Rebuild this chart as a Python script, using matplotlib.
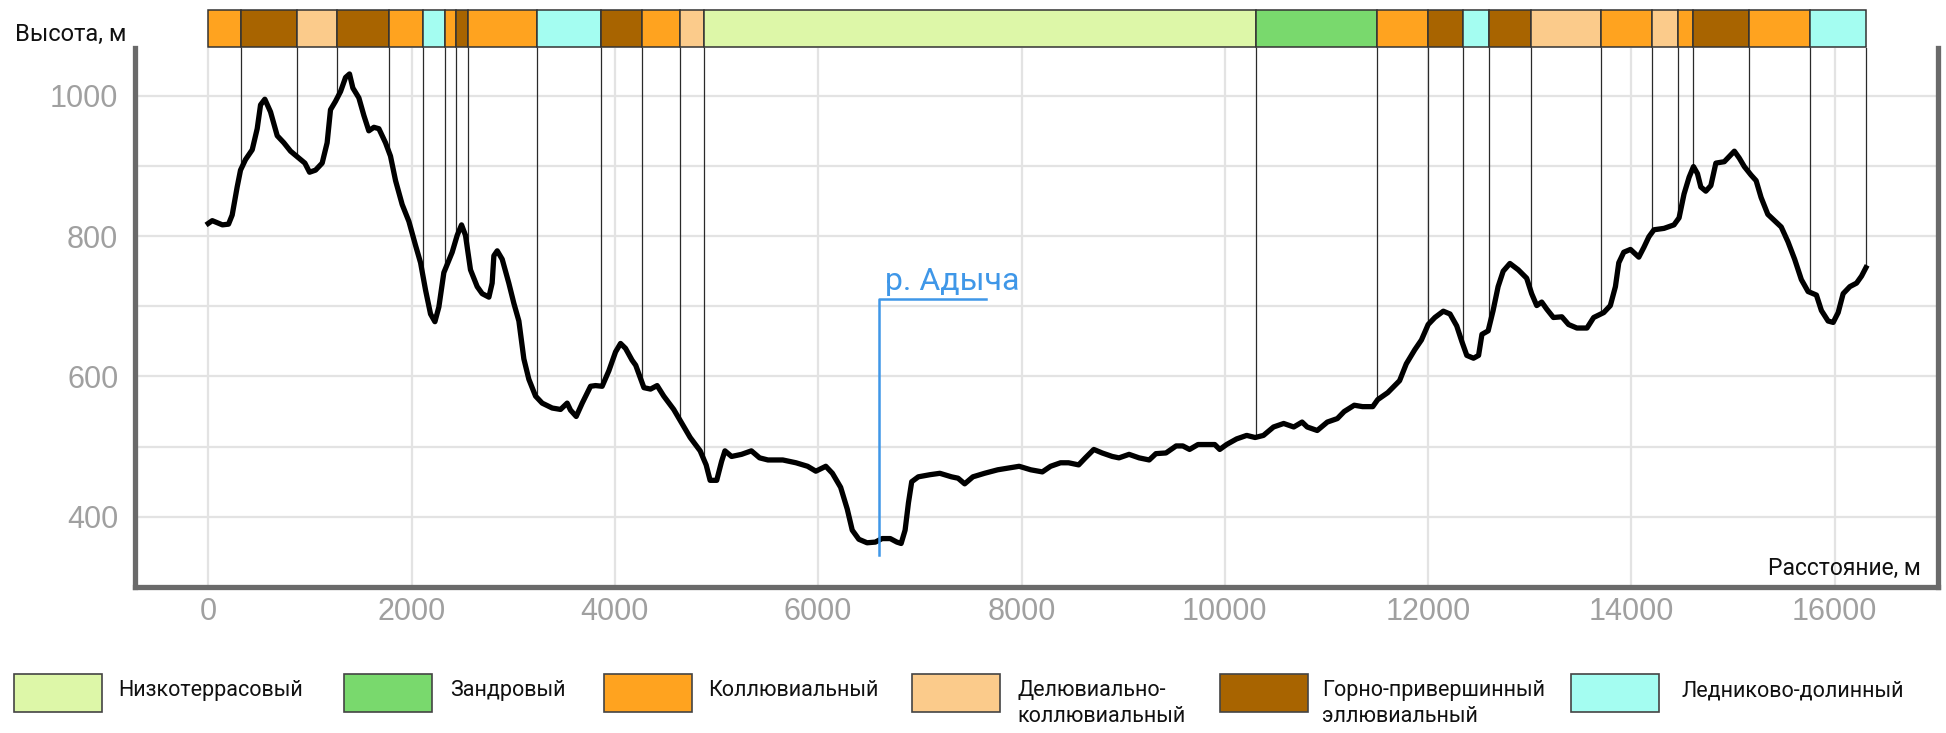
import numpy as np
import matplotlib
matplotlib.use("Agg")
from matplotlib import pyplot as plt
from matplotlib.patches import Rectangle

plt.rcParams['font.family'] = ['Roboto', 'DejaVu Sans']

# --- data ---
distance = [0, 40, 140, 200, 236, 285, 318, 367, 433, 482, 515, 557, 613, 679, 744, 810, 892, 951, 997,
            1056, 1121, 1170, 1203, 1252, 1302, 1351, 1390, 1423, 1482, 1531, 1580, 1630, 1679, 1744, 1793,
            1843, 1908, 1974, 2039, 2089, 2138, 2187, 2230, 2269, 2318, 2400, 2449, 2492, 2531, 2580, 2646,
            2695, 2761, 2793, 2810, 2843, 2892, 2957, 3007, 3056, 3105, 3154, 3220, 3285, 3384, 3466, 3531,
            3564, 3620, 3679, 3761, 3810, 3875, 3941, 4007, 4056, 4105, 4170, 4205, 4286, 4351, 4416, 4481,
            4579, 4660, 4741, 4839, 4898, 4937, 5002, 5050, 5083, 5148, 5246, 5343, 5424, 5506, 5652, 5782,
            5896, 5977, 6075, 6140, 6221, 6286, 6335, 6400, 6481, 6563, 6628, 6709, 6774, 6816, 6855, 6888,
            6920, 6985, 7099, 7197, 7311, 7376, 7441, 7522, 7636, 7766, 7896, 7977, 8091, 8205, 8286, 8384,
            8463, 8562, 8628, 8711, 8793, 8893, 8959, 9058, 9157, 9256, 9322, 9421, 9521, 9587, 9653, 9736,
            9851, 9901, 9950, 10017, 10116, 10215, 10298, 10380, 10479, 10579, 10678, 10760, 10810, 10909,
            11008, 11107, 11174, 11273, 11355, 11455, 11504, 11603, 11719, 11785, 11868, 11934, 12000, 12066,
            12149, 12215, 12281, 12331, 12380, 12446, 12496, 12529, 12590, 12639, 12688, 12738, 12804, 12886,
            12969, 13018, 13068, 13117, 13166, 13232, 13315, 13381, 13463, 13562, 13628, 13727, 13792, 13842,
            13875, 13924, 13990, 14072, 14122, 14171, 14221, 14320, 14418, 14468, 14517, 14567, 14610, 14649,
            14682, 14731, 14781, 14830, 14913, 14979, 15012, 15061, 15110, 15176, 15226, 15275, 15341, 15407,
            15473, 15539, 15605, 15671, 15737, 15819, 15868, 15934, 15984, 16033, 16082, 16148, 16214, 16263,
            16306]
elevation = [818, 822, 816, 817, 830, 870, 894, 909, 923, 953, 987, 995, 977, 943, 933, 921, 911, 904, 891,
             894, 904, 933, 980, 992, 1006, 1026, 1031, 1011, 997, 972, 950, 955, 953, 933, 914,
             879, 845, 821, 787, 762, 723, 689, 678, 699, 748, 777, 801, 816, 801, 752, 728,
             718, 713, 733, 772, 779, 767, 733, 704, 679, 625, 596, 572, 562, 555, 553, 562,
             552, 543, 562, 586, 587, 586, 608, 635, 647, 640, 623, 616, 584, 582, 587, 572,
             553, 533, 513, 494, 474, 452, 452, 479, 494, 486, 489, 494, 484, 481, 481, 477,
             472, 465, 472, 462, 442, 411, 381, 368, 363, 364, 369, 369, 364, 362, 381, 420,
             450, 457, 460, 462, 457, 455, 447, 457, 462, 467, 470, 472, 467, 464, 472, 477,
             477, 474, 484, 496, 491, 486, 484, 489, 484, 481, 490, 491, 501, 501, 496, 503,
             503, 503, 496, 503, 511, 516, 513, 516, 528, 533, 528, 535, 528, 523,
             535, 540, 550, 559, 557, 557, 567, 577, 594, 618, 638, 652, 674, 684,
             693, 689, 672, 650, 630, 626, 630, 660, 665, 694, 728, 750, 761, 752,
             740, 718, 701, 706, 696, 684, 685, 674, 669, 669, 684, 691, 701, 728,
             762, 777, 781, 770, 784, 799, 809, 811, 816, 826, 860, 884, 899, 889,
             870, 864, 872, 904, 906, 916, 921, 911, 899, 887, 879, 855, 831, 822,
             813, 792, 767, 738, 721, 716, 694, 679, 677, 691, 718, 728, 733, 743,
             755]

# segment borders along the profile and the landform type of each segment
borders = [0, 325, 870, 1265, 1775, 2108, 2330, 2433, 2560, 3238, 3860, 4268, 4645, 4872,
           10305, 11495, 12003, 12338, 12600, 13010, 13705, 14200, 14460, 14610, 15155, 15755, 16306]
segment_type = ['К', 'Г', 'Д', 'Г', 'К', 'Л', 'К', 'Г', 'К', 'Л', 'Г', 'К', 'Д', 'Н',
                'З', 'К', 'Г', 'Л', 'Г', 'Д', 'К', 'Д', 'К', 'Г', 'К', 'Л']

legend_keys = ['Н', 'З', 'К', 'Д', 'Г', 'Л']
legend_names = ['Низкотеррасовый', 'Зандровый', 'Коллювиальный',
                'Делювиально-\nколлювиальный', 'Горно-привершинный\nэллювиальный', 'Ледниково-долинный']
legend_colors = ['#ddf7a8', '#79d96d', '#ffa31f', '#fbcb8b', '#a86400', '#a4fdf1']

river_x = 6595
river_label = 'р. Адыча'

W, H = 1946, 733


def fx(px):
    return px / W


def fy(py):
    return 1 - py / H


fig = plt.figure(figsize=(W / 100, H / 100), dpi=100)

ax = fig.add_axes([fx(135), fy(587), fx(1938) - fx(135), fy(48) - fy(587)])
bar_ax = fig.add_axes([fx(135), fy(47), fx(1938) - fx(135), fy(10) - fy(47)])

xlim = (-720, 17015)
ax.set_xlim(xlim)
ax.set_ylim(300, 1068)

# grid
ax.set_xticks(range(0, 16001, 2000))
ax.set_yticks([400, 600, 800, 1000])
ax.set_yticks(range(400, 1001, 100), minor=True)
ax.grid(axis='y', which='both', color='#e3e3e3', lw=1.6, zorder=0)
ax.grid(axis='x', which='major', color='#e3e3e3', lw=1.6, zorder=0)
ax.tick_params(which='both', length=0)
ax.tick_params(axis='y', pad=12, labelsize=22, labelcolor='#a0a0a0')
ax.tick_params(axis='x', pad=7, labelsize=22, labelcolor='#a0a0a0')
for lab in ax.get_xticklabels() + ax.get_yticklabels():
    lab.set_fontfamily(['Liberation Sans', 'DejaVu Sans'])

for side in ['left', 'bottom', 'right']:
    ax.spines[side].set_color('#6a6a6a')
    ax.spines[side].set_linewidth(3.8)
ax.spines['top'].set_visible(False)

# thin lines from the type bar down to the profile
for b in borders[1:]:
    z = np.interp(b, distance, elevation)
    ax.plot([b, b], [z, 1068], color='#2a2a2a', lw=0.9, zorder=2)

ax.plot(distance, elevation, color='black', lw=3.8, solid_joinstyle='round', zorder=3)

# river marker
ax.plot([river_x, river_x, river_x + 1055], [345, 710, 710], color='#3f97e8', lw=1.8, zorder=4)
ax.text(river_x + 60, 714, river_label, color='#3f97e8', fontsize=23, ha='left', va='bottom', zorder=4)

ax.text(0.9905, 0.035, 'Расстояние, м', transform=ax.transAxes, ha='right', va='center',
        fontsize=16.5, color='#111111')
fig.text(fx(15), fy(34), 'Высота, м', ha='left', va='center', fontsize=17, color='#111111')

# type bar
type_color = dict(zip(legend_keys, legend_colors))
bar_ax.set_xlim(xlim)
bar_ax.set_ylim(0, 1)
bar_ax.axis('off')
for i, t in enumerate(segment_type):
    bar_ax.bar(x=borders[i], height=1, width=borders[i + 1] - borders[i], bottom=0, align='edge',
               color=type_color[t], edgecolor='#333333', linewidth=1.1, clip_on=False)

# legend
box_left = [14, 344, 604, 912, 1220, 1571]
text_left = [118, 450, 708, 1017, 1322, 1681]
for i in range(len(legend_names)):
    fig.add_artist(Rectangle((fx(box_left[i]), fy(712)), fx(88), fy(674) - fy(712),
                             transform=fig.transFigure, facecolor=legend_colors[i],
                             edgecolor='#444444', lw=1.2))
    fig.text(fx(text_left[i]), fy(680), legend_names[i], ha='left', va='top', fontsize=15.5,
             color='#111111', linespacing=1.3)

fig.savefig('out.png', dpi=100)
